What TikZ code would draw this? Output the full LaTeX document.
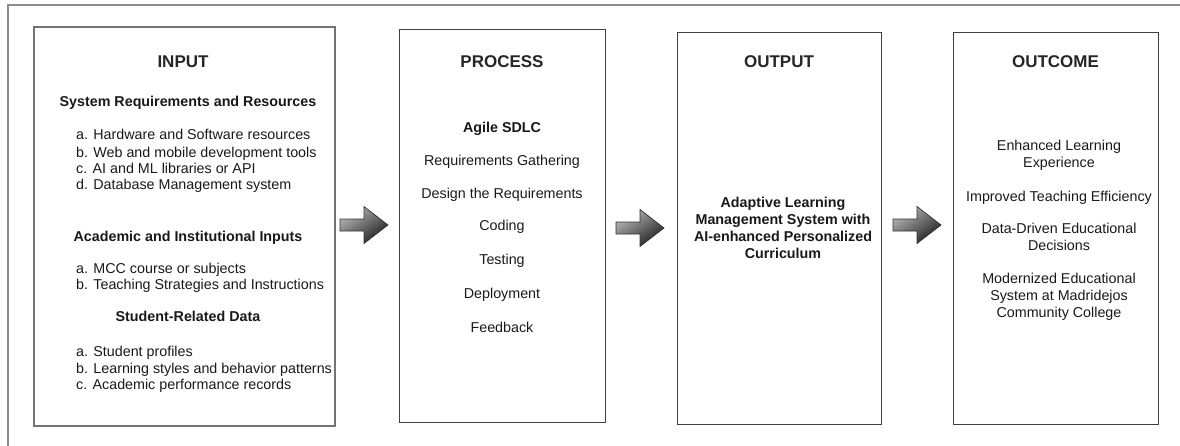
\documentclass[tikz,border=0pt]{standalone}
\usepackage{fontspec}
\setmainfont{Liberation Sans}
\usetikzlibrary{calc}
\begin{document}
\begin{tikzpicture}[x=1pt,y=-1pt,
  frame/.style={draw=black!45, line width=2pt},
  box/.style={draw=black!75, line width=1.2pt, rectangle, inner sep=0pt, anchor=north west},
  heading/.style={font=\bfseries\fontsize{17}{20}\selectfont, anchor=base, inner sep=0pt, text=black!85},
  subhead/.style={font=\bfseries\fontsize{14.3}{17}\selectfont, anchor=base, inner sep=0pt, text=black!90},
  item/.style={font=\fontsize{14.3}{17}\selectfont, anchor=base west, inner sep=0pt, text=black!90},
  stage/.style={font=\fontsize{14.3}{17}\selectfont, anchor=base, inner sep=0pt, text=black!90},
  block/.style={font=\fontsize{14.3}{17}\selectfont, align=center, anchor=north, inner sep=0pt, text=black!90},
  arrowfill/.style={draw=black!80, line width=0.7pt, top color=black!28, bottom color=black!88, shading angle=35},
  pics/blockarrow/.style={code={\shade[arrowfill] (-24,-6) -- (0,-6) -- (0,-18.5) -- (24,0) -- (0,18.5) -- (0,6) -- (-24,6) -- cycle;}}
]
\useasboundingbox (0,0) rectangle (1180,445);

% page frame (open to the right and bottom)
\coordinate (frameTR) at (1185,5);
\coordinate (frameTL) at (8,5);
\coordinate (frameBL) at (8,450);
\draw[frame] (frameTR) -- (frameTL) -- (frameBL);

% the four stages
\node[box, draw=black!55, line width=1.6pt, minimum width=301, minimum height=399] (input) at (33,26) {};
\node[box, minimum width=206, minimum height=393] (process) at (399,29) {};
\node[box, minimum width=204, minimum height=392] (output)  at (677,32) {};
\node[box, minimum width=205, minimum height=392] (outcome) at (953,32) {};

% block arrows between stages
\coordinate (arrA) at (364,225);
\coordinate (arrB) at (640,228);
\coordinate (arrC) at (917,225);
\pic at (arrA) {blockarrow};
\pic at (arrB) {blockarrow};
\pic at (arrC) {blockarrow};

% INPUT
\node[heading] (inT) at (183,67) {INPUT};
\node[subhead] (inS1) at (188,106) {System Requirements and Resources};
\node[item] (inS1a) at (76,139) {a. Hardware and Software resources};
\node[item] (inS1b) at (76,157) {b. Web and mobile development tools};
\node[item] (inS1c) at (76,173) {c. AI and ML libraries or API};
\node[item] (inS1d) at (76,189) {d. Database Management system};
\node[subhead] (inS2) at (188,241) {Academic and Institutional Inputs};
\node[item] (inS2a) at (76,273) {a. MCC course or subjects};
\node[item] (inS2b) at (76,289) {b. Teaching Strategies and Instructions};
\node[subhead] (inS3) at (188,321) {Student-Related Data};
\node[item] (inS3a) at (76,356) {a. Student profiles};
\node[item] (inS3b) at (76,373) {b. Learning styles and behavior patterns};
\node[item] (inS3c) at (76,389) {c. Academic performance records};

% PROCESS
\node[heading] (prT) at (502,67) {PROCESS};
\node[subhead] (prA) at (502,132) {Agile SDLC};
\node[stage] (pr1) at (502,165) {Requirements Gathering};
\node[stage] (pr2) at (502,198) {Design the Requirements};
\node[stage] (pr3) at (502,230) {Coding};
\node[stage] (pr4) at (502,264) {Testing};
\node[stage] (pr5) at (502,298) {Deployment};
\node[stage] (pr6) at (502,332) {Feedback};

% OUTPUT
\node[heading] (ouT) at (779,67) {OUTPUT};
\node[block, font=\bfseries\fontsize{14.3}{16.7}\selectfont] (ou1) at (783,196.1)
  {\strut Adaptive Learning\\Management System with\\AI-enhanced Personalized\\Curriculum};

% OUTCOME
\node[heading] (ocT) at (1055.5,67) {OUTCOME};
\node[block] (oc1) at (1059,138.1) {\strut Enhanced Learning\\Experience};
\node[stage] (oc2) at (1059,201) {Improved Teaching Efficiency};
\node[block] (oc3) at (1059,221.1) {\strut Data-Driven Educational\\Decisions};
\node[block] (oc4) at (1059,271.1) {\strut Modernized Educational\\System at Madridejos\\Community College};
\end{tikzpicture}
\end{document}
